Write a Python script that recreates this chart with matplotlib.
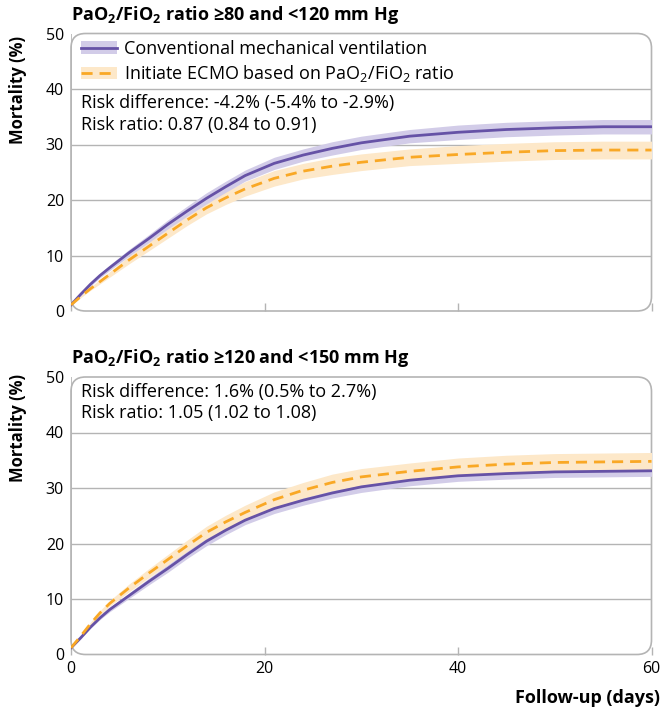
import numpy as np
import matplotlib
matplotlib.use("Agg")
import matplotlib.pyplot as plt
from matplotlib.patches import FancyBboxPatch, Patch
from matplotlib.lines import Line2D

plt.rcParams['font.family'] = ['Open Sans', 'DejaVu Sans']
plt.rcParams['mathtext.fontset'] = 'custom'
plt.rcParams['mathtext.rm'] = 'Open Sans'
plt.rcParams['mathtext.bf'] = 'Open Sans:bold'

# data
days = [0, 1, 2, 3, 4, 6, 8, 10, 12, 14, 16, 18, 21, 24, 27, 30, 35, 40, 45, 50, 55, 60]

top_cmv = [1.1, 3.0, 4.8, 6.4, 7.8, 10.5, 13.0, 15.6, 18.0, 20.3, 22.4, 24.4, 26.6, 28.1, 29.3, 30.3, 31.5, 32.2, 32.7, 33.0, 33.2, 33.2]
top_ecmo = [1.1, 2.6, 4.0, 5.3, 6.6, 9.2, 11.6, 14.0, 16.4, 18.6, 20.4, 22.0, 23.9, 25.2, 26.1, 26.8, 27.7, 28.2, 28.6, 28.9, 29.0, 29.0]
top_cmv_hw = [0.1, 0.2, 0.3, 0.4, 0.5, 0.6, 0.7, 0.8, 0.9, 1.0, 1.0, 1.0, 1.1, 1.1, 1.2, 1.2, 1.2, 1.3, 1.3, 1.3, 1.3, 1.3]
top_ecmo_hw = [0.1, 0.2, 0.3, 0.4, 0.5, 0.7, 0.8, 0.9, 1.0, 1.1, 1.2, 1.3, 1.4, 1.4, 1.5, 1.5, 1.5, 1.6, 1.6, 1.6, 1.6, 1.6]

bot_cmv = [1.2, 3.0, 4.9, 6.6, 8.1, 10.6, 13.1, 15.5, 18.0, 20.4, 22.4, 24.2, 26.3, 27.8, 29.1, 30.2, 31.4, 32.2, 32.6, 32.9, 33.0, 33.1]
bot_ecmo = [1.2, 3.3, 5.5, 7.5, 9.2, 12.0, 14.6, 17.1, 19.6, 22.0, 23.9, 25.6, 27.9, 29.6, 31.0, 32.0, 33.0, 33.8, 34.3, 34.6, 34.7, 34.8]
bot_cmv_hw = [0.1, 0.2, 0.2, 0.3, 0.4, 0.5, 0.6, 0.7, 0.7, 0.8, 0.8, 0.8, 0.9, 0.9, 0.9, 1.0, 1.0, 1.0, 1.0, 1.0, 1.0, 1.0]
bot_ecmo_hw = [0.1, 0.2, 0.3, 0.4, 0.5, 0.7, 0.8, 0.9, 1.0, 1.1, 1.2, 1.3, 1.4, 1.4, 1.5, 1.5, 1.5, 1.6, 1.6, 1.6, 1.6, 1.6]

titles = [r"PaO$_\mathbf{2}$/FiO$_\mathbf{2}$ ratio ≥80 and <120 mm Hg",
          r"PaO$_\mathbf{2}$/FiO$_\mathbf{2}$ ratio ≥120 and <150 mm Hg"]
risk_lines = [["Risk difference: -4.2% (-5.4% to -2.9%)", "Risk ratio: 0.87 (0.84 to 0.91)"],
              ["Risk difference: 1.6% (0.5% to 2.7%)", "Risk ratio: 1.05 (1.02 to 1.08)"]]
legend_labels = ["Conventional mechanical ventilation",
                 r"Initiate ECMO based on PaO$_2$/FiO$_2$ ratio"]

purple = '#6652a6'
purple_band = '#d2cce8'
orange = '#f9a825'
orange_band = '#fde8c9'
grey = '#b4b4b4'

fig = plt.figure(figsize=(6.61, 7.14), dpi=100)
W, H = 661, 714

def px_axes(x0, y_top, x1, y_bot):
    return fig.add_axes([x0 / W, 1 - y_bot / H, (x1 - x0) / W, (y_bot - y_top) / H])

ax1 = px_axes(71, 33.5, 651.5, 311)
ax2 = px_axes(71, 377, 651.5, 654.5)

panels = [(ax1, top_cmv, top_cmv_hw, top_ecmo, top_ecmo_hw),
          (ax2, bot_cmv, bot_cmv_hw, bot_ecmo, bot_ecmo_hw)]
# text rows (data y) for the risk lines
risk_y = [[37.5, 33.5], [47.3, 43.5]]

d = np.array(days)
for i, (ax, cmv, cmv_hw, ecmo, ecmo_hw) in enumerate(panels):
    cmv, cmv_hw = np.array(cmv), np.array(cmv_hw)
    ecmo, ecmo_hw = np.array(ecmo), np.array(ecmo_hw)
    ax.set_xlim(0, 60)
    ax.set_ylim(0, 50)
    for s in ax.spines.values():
        s.set_visible(False)
    for yv in [10, 20, 30, 40]:
        ax.axhline(yv, color=grey, lw=1.0, zorder=0)
    box = FancyBboxPatch((0, 0), 1, 1, boxstyle="round,pad=0,rounding_size=0.025",
                         transform=ax.transAxes, fill=False, ec=grey, lw=1.2,
                         clip_on=False, zorder=1, mutation_aspect=580 / 277)
    ax.add_patch(box)
    ax.plot([0, 0], [0, 50], color=grey, lw=1.2, zorder=1)

    ax.fill_between(d, cmv - cmv_hw, cmv + cmv_hw, color=purple_band, lw=0, zorder=2)
    ax.fill_between(d, ecmo - ecmo_hw, ecmo + ecmo_hw, color=orange_band, lw=0,
                    zorder=2.5 if i == 1 else 1.8)
    ax.plot(d, cmv, color=purple, lw=2.0, zorder=3)
    ax.plot(d, ecmo, color=orange, lw=2.0, ls=(0, (4, 2.5)), zorder=4)

    ax.set_xticks([0, 20, 40, 60])
    ax.set_yticks([0, 10, 20, 30, 40, 50])
    ax.tick_params(axis='x', direction='in', length=6, color=grey, width=1.0, pad=5)
    ax.tick_params(axis='y', length=0, pad=5)
    ax.tick_params(labelsize=11.5)
    if i == 0:
        ax.set_xticklabels([])
    else:
        ax.set_xticklabels(['0', '20', '40', '60'])
    ax.text(0, 53.4, titles[i], fontsize=13, fontweight='bold', ha='left', va='center')
    for txt, yv in zip(risk_lines[i], risk_y[i]):
        ax.text(1.0, yv, txt, fontsize=13, ha='left', va='center', zorder=5)

handles = [(Patch(color=purple_band, lw=0), Line2D([], [], color=purple, lw=2.0)),
           (Patch(color=orange_band, lw=0), Line2D([], [], color=orange, lw=2.0, ls=(0, (4, 2.5))))]
ax1.legend(handles, legend_labels, loc='upper left', bbox_to_anchor=(0.006, 1.0),
           frameon=False, fontsize=13, handlelength=2.0, handletextpad=0.4,
           labelspacing=0.3, borderaxespad=0.0, borderpad=0.35)

fig.text(18 / W, 1 - 90 / H, "Mortality (%)", rotation=90, fontsize=12, fontweight='bold',
         ha='center', va='center')
fig.text(18 / W, 1 - 428 / H, "Mortality (%)", rotation=90, fontsize=12, fontweight='bold',
         ha='center', va='center')
fig.text(660 / W, 1 - 698 / H, "Follow-up (days)", fontsize=13, fontweight='bold',
         ha='right', va='center')

fig.savefig("out.png", dpi=100)
